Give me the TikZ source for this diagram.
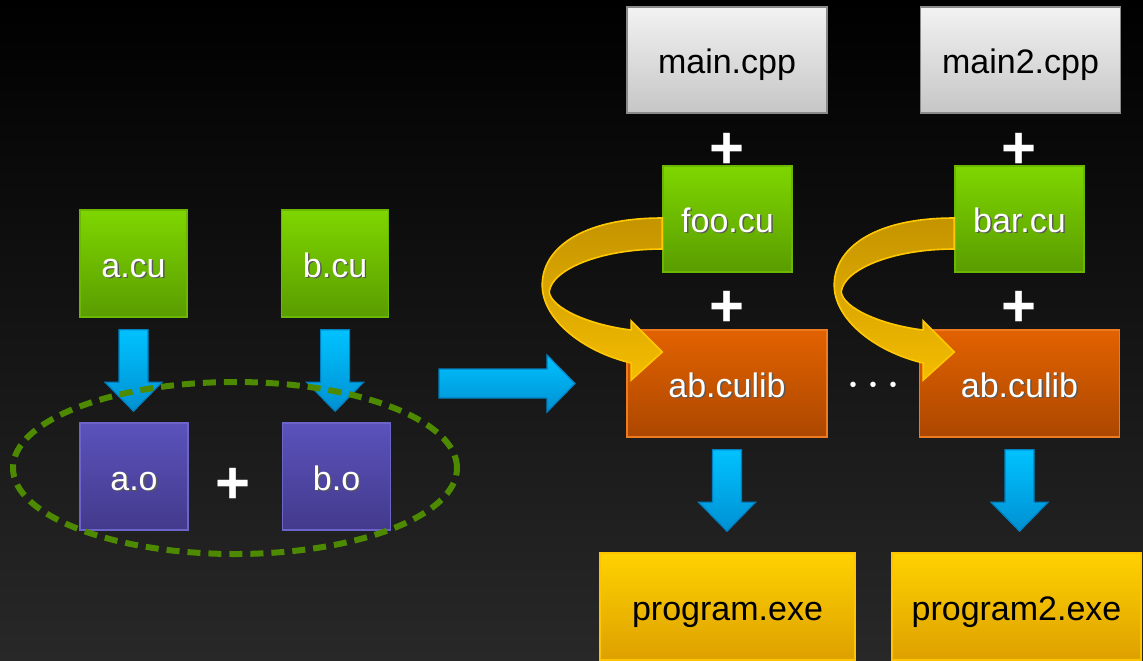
\documentclass[tikz,border=0pt]{standalone}
\usepackage{fontspec}
\setmainfont{Liberation Sans}
\usetikzlibrary{shapes.geometric,positioning,calc}

\definecolor{cuTop}{HTML}{7ED600}
\definecolor{cuBot}{HTML}{5A9C00}
\definecolor{cuLine}{HTML}{6CB800}
\definecolor{oTop}{HTML}{5B52BC}
\definecolor{oBot}{HTML}{433A8C}
\definecolor{oLine}{HTML}{6C64C8}
\definecolor{libTop}{HTML}{E26200}
\definecolor{libBot}{HTML}{AC4700}
\definecolor{libLine}{HTML}{F07A1E}
\definecolor{srcTop}{HTML}{F2F2F2}
\definecolor{srcBot}{HTML}{C6C6C6}
\definecolor{srcLine}{HTML}{8A8A8A}
\definecolor{exeTop}{HTML}{FFD200}
\definecolor{exeBot}{HTML}{DDA000}
\definecolor{exeLine}{HTML}{FFC400}
\definecolor{arrTop}{HTML}{00C2FF}
\definecolor{arrBot}{HTML}{0090D2}
\definecolor{arrLine}{HTML}{0080C0}
\definecolor{stripTop}{HTML}{C49400}
\definecolor{stripBot}{HTML}{F4BC00}
\definecolor{stripLine}{HTML}{FFC800}
\definecolor{linkGreen}{HTML}{4E8A00}
\definecolor{bgBot}{HTML}{282828}

% light text with a soft shadow under it
\newcommand{\shd}[1]{\makebox[0pt][l]{\hspace{0.7pt}\raisebox{-0.7pt}{\color{black!65}#1}}#1}

% block arrows, drawn between two points
\newcommand{\downblock}[2]{%
  \path[blockarrow] let \p1=(#1), \p2=(#2) in
    (\x1-7.25pt,\y1) -- (\x1+7.25pt,\y1) -- (\x1+7.25pt,\y2+14.5pt)
    -- (\x1+14.25pt,\y2+14.5pt) -- (\x1,\y2) -- (\x1-14.25pt,\y2+14.5pt)
    -- (\x1-7.25pt,\y2+14.5pt) -- cycle;}
\newcommand{\rightblock}[2]{%
  \path[blockarrow] let \p1=(#1), \p2=(#2) in
    (\x1,\y1+7.25pt) -- (\x2-14pt,\y1+7.25pt) -- (\x2-14pt,\y1+14.25pt)
    -- (\x2,\y1) -- (\x2-14pt,\y1-14.25pt) -- (\x2-14pt,\y1-7.25pt)
    -- (\x1,\y1-7.25pt) -- cycle;}
% curved strip from the left side of a .cu box down into the library
\newcommand{\bendstrip}[1]{%
  \path[bendstrip,shift={(#1.west)}]
    (0,-1) .. controls (-83,-1) and (-120,31) .. (-120,66)
    .. controls (-120,101) and (-78,133) .. (-31,144)
    -- (-31,161) -- (0,133) -- (-31,102) -- (-31,111)
    .. controls (-73,106) and (-111,89) .. (-113,73)
    .. controls (-111,51) and (-63,30) .. (0,30) -- cycle;}

\begin{document}
\begin{tikzpicture}[x=0.5pt,y=-0.5pt,node distance=46.5pt,
  box/.style={rectangle,inner sep=0pt,line width=0.8pt,
              text height=13.5pt,text depth=0pt,
              font=\fontsize{17}{20}\selectfont},
  cubox/.style={box,draw=cuLine,top color=cuTop,bottom color=cuBot,
                text=white,minimum width=53.5pt,minimum height=53.5pt},
  objbox/.style={box,draw=oLine,top color=oTop,bottom color=oBot,
                 text=white,minimum width=54pt,minimum height=53.5pt},
  libbox/.style={box,draw=libLine,top color=libTop,bottom color=libBot,
                 text=white,minimum width=100pt,minimum height=53.5pt},
  srcbox/.style={box,draw=srcLine,top color=srcTop,bottom color=srcBot,
                 text=black,minimum width=100pt,minimum height=53pt},
  exebox/.style={box,draw=exeLine,top color=exeTop,bottom color=exeBot,
                 text=black,minimum width=127.5pt,minimum height=53.5pt},
  plussign/.style={text=white,inner sep=0pt,yshift=-2pt,
                   font=\bfseries\fontsize{30}{30}\selectfont},
  blockarrow/.style={draw=arrLine,line width=0.6pt,
                     top color=arrTop,bottom color=arrBot},
  bendstrip/.style={draw=stripLine,line width=0.8pt,
                    top color=stripTop,bottom color=stripBot},
  linkring/.style={ellipse,draw=linkGreen,line width=3pt,
                   dash pattern=on 6.5pt off 4pt,
                   minimum width=222pt,minimum height=86pt}]

\shade[top color=black,bottom color=bgBot] (0,0) rectangle (1143,660);
\useasboundingbox (0,0) rectangle (1143,660);

% separate compilation
\node[cubox] (aCu) at (133.5,263.5) {\shd{a.cu}};
\node[cubox,right=of aCu] (bCu) {\shd{b.cu}};
\node[objbox] (aO) at (134,476.5) {\shd{a.o}};
\node[objbox,right=of aO] (bO) {\shd{b.o}};
\node[plussign] (plusO) at (233,482) {+};
\downblock{$(aCu.south)+(0,12)$}{$(aO.north)+(0,-11)$}
\downblock{$(bCu.south)+(0,12)$}{$(bO.north)+(0,-11)$}
\node[linkring] (abGroup) at (235,468) {};

\coordinate (hStart) at (439,383.5);
\coordinate (hEnd) at (575,383.5);
\rightblock{hStart}{hEnd}

% linking against the library
\node[srcbox] (mainCpp) at (727,60) {main.cpp};
\node[srcbox] (mainTwoCpp) at (1020.5,60) {main2.cpp};
\node[plussign] (plusA1) at (727,147) {+};
\node[plussign] (plusB1) at (1019,147) {+};
\node[cubox,minimum width=64.5pt,minimum height=53pt] (fooCu) at (727.5,219) {\shd{foo.cu}};
\node[cubox,minimum width=64.5pt,minimum height=53pt] (barCu) at (1019.5,219) {\shd{bar.cu}};
\node[plussign] (plusA2) at (727,305) {+};
\node[plussign] (plusB2) at (1019,305) {+};
\node[libbox] (libA) at (727,383.5) {\shd{ab.culib}};
\node[libbox] (libB) at (1019.5,383.5) {\shd{ab.culib}};
\node[text=white,inner sep=0pt,font=\fontsize{10}{10}\selectfont] (dots) at (873,387)
  {•\hspace{6.5pt}•\hspace{6.5pt}•};
\node[exebox] (prog) at (727.5,606.5) {program.exe};
\node[exebox,minimum width=124.5pt] (progTwo) at (1016.5,606.5) {program2.exe};

\bendstrip{fooCu}
\bendstrip{barCu}
\downblock{$(libA.south)+(0,12)$}{$(prog.north)+(0,-21)$}
\downblock{$(libB.south)+(0,12)$}{$(progTwo.north)+(0,-21)$}
\end{tikzpicture}
\end{document}
